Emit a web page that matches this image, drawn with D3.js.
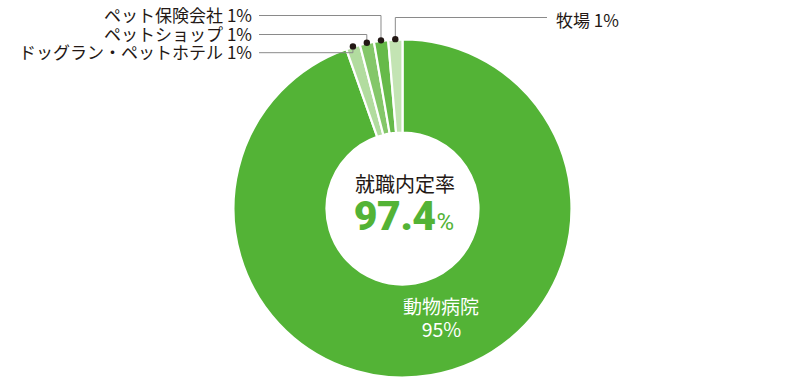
<!DOCTYPE html>
<html>
<head>
<meta charset="utf-8">
<script src="https://cdn.jsdelivr.net/npm/d3@7/dist/d3.min.js"></script>
<style>
  body { margin: 0; background: #fff; }
  svg { display: block; }
  text { font-family: "Noto Sans CJK JP", "Noto Sans", sans-serif; }
</style>
</head>
<body>
<svg id="chart" width="800" height="384"></svg>
<script>
// data
var categories = ["動物病院", "ドッグラン・ペットホテル", "ペットショップ", "ペット保険会社", "牧場"];
var shares = [94.6, 1.35, 1.35, 1.35, 1.35];      // slice size as drawn
var percentLabels = ["95%", "1%", "1%", "1%", "1%"];
var centerTitle = "就職内定率";
var centerValue = "97.4";
var centerUnit = "%";

var color = ["#53b336", "#b2dc9f", "#84c769", "#66ba49", "#c3e4b3"];

var svg = d3.select("#chart"),
    cx = 402.5, cy = 208.5,
    outerR = 169, innerR = 76,
    g = svg.append("g").attr("transform", "translate(" + cx + "," + cy + ")");

var data = categories.map(function(c, i) {
  return {name: c, share: shares[i], label: percentLabels[i], color: color[i]};
});

var pie = d3.pie().sort(null).value(function(d) { return d.share; });
var arc = d3.arc().innerRadius(innerR).outerRadius(outerR);
var arcs = pie(data);

g.selectAll(".slice")
    .data(arcs)
  .enter().append("path")
    .attr("class", "slice")
    .attr("d", arc)
    .attr("fill", function(d) { return d.data.color; })
    .attr("stroke", "#fff")
    .attr("stroke-width", 2.2);

// leader lines for the small slices
// row heights of the callouts (layout, not data)
var rowY = {1: 52.7, 2: 34.5, 3: 15.5, 4: 17.5};
var leftEnd = 259, rightEnd = 547;

var callouts = arcs.slice(1);

function dotPos(d) {
  var a = (d.startAngle + d.endAngle) / 2, r = outerR + 0.5;
  return [r * Math.sin(a), -r * Math.cos(a)];
}

var lead = g.selectAll(".callout")
    .data(callouts)
  .enter().append("g")
    .attr("class", "callout");

lead.append("path")
    .attr("fill", "none")
    .attr("stroke", "#8a8a8a")
    .attr("stroke-width", 1)
    .attr("d", function(d) {
      var p = dotPos(d), i = d.index;
      var y = rowY[i] - cy;
      var xEnd = (i === 4 ? rightEnd : leftEnd) - cx;
      return "M" + p[0] + "," + p[1] + "V" + y + "H" + xEnd;
    });

lead.append("circle")
    .attr("r", 3.2)
    .attr("fill", "#231815")
    .attr("cx", function(d) { return dotPos(d)[0]; })
    .attr("cy", function(d) { return dotPos(d)[1]; });

lead.append("text")
    .attr("x", function(d) { return d.index === 4 ? rightEnd + 9 - cx : leftEnd - 7 - cx; })
    .attr("y", function(d) { return rowY[d.index] - cy + (d.index === 4 ? 2 : -1); })
    .attr("dominant-baseline", "central")
    .attr("text-anchor", function(d) { return d.index === 4 ? "start" : "end"; })
    .attr("font-size", 17)
    .attr("fill", "#231815")
    .text(function(d) { return d.data.name + " " + d.data.label; });

// centre text
g.append("text")
    .attr("x", 2.5)
    .attr("y", -25.5)
    .attr("text-anchor", "middle")
    .attr("dominant-baseline", "central")
    .attr("font-size", 20)
    .attr("fill", "#231815")
    .text(centerTitle);

var big = g.append("text")
    .attr("x", 1.5)
    .attr("y", 21.5)
    .attr("text-anchor", "middle")
    .attr("fill", "#53b336");
big.append("tspan")
    .style("font-family", "Roboto, sans-serif")
    .attr("font-weight", 900)
    .attr("font-size", 41)
    .attr("letter-spacing", -0.5)
    .text(centerValue);
big.append("tspan")
    .style("font-family", "Roboto, sans-serif")
    .attr("font-weight", 400)
    .attr("font-size", 24)
    .attr("dx", 1)
    .text(centerUnit);

// label inside the big slice
var main = arcs[0];
g.append("text")
    .attr("x", 38.5)
    .attr("y", 96.5)
    .attr("text-anchor", "middle")
    .attr("dominant-baseline", "central")
    .attr("font-size", 19)
    .attr("fill", "#fff")
    .text(main.data.name);
g.append("text")
    .attr("x", 39)
    .attr("y", 119.5)
    .attr("text-anchor", "middle")
    .attr("dominant-baseline", "central")
    .attr("font-size", 19.5)
    .attr("fill", "#fff")
    .text(main.data.label);
</script>
</body>
</html>
